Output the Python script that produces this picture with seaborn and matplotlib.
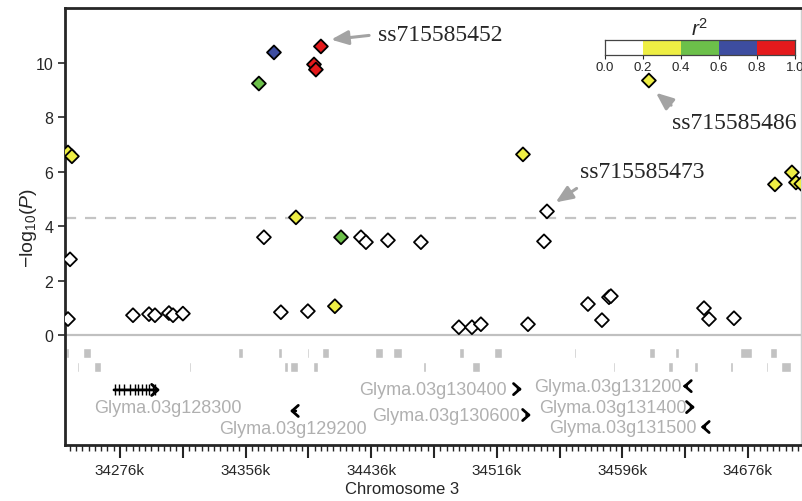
import matplotlib
matplotlib.use("Agg")
import matplotlib.pyplot as plt
import seaborn as sns
import numpy as np
import pandas as pd

# SNP positions (kb on chromosome 3), -log10(P) and LD r^2 with the lead SNP
snp_pos = [34242.9, 34244.2, 34242.9, 34245.4, 34284.3, 34294.5, 34298.3, 34307.2,
           34309.8, 34316.1, 34364.5, 34374.1, 34404.0, 34399.6, 34400.8, 34388.1,
           34367.7, 34416.8, 34429.5, 34432.7, 34446.7, 34467.7, 34378.5, 34395.7,
           34412.9, 34491.9, 34500.2, 34505.9, 34535.9, 34532.7, 34548.0, 34546.1,
           34574.1, 34583.0, 34587.5, 34588.7, 34648.0, 34651.2, 34667.1, 34612.9,
           34693.2, 34704.0, 34706.6, 34710.0]
snp_logp = [0.59, 2.78, 6.70, 6.56, 0.73, 0.77, 0.73, 0.81,
            0.73, 0.79, 9.23, 10.37, 10.59, 9.93, 9.74, 4.32,
            3.59, 3.59, 3.59, 3.41, 3.48, 3.41, 0.84, 0.88,
            1.06, 0.29, 0.29, 0.40, 0.40, 6.63, 4.54, 3.44,
            1.14, 0.55, 1.39, 1.43, 0.99, 0.59, 0.62, 9.34,
            5.53, 5.97, 5.60, 5.55]
snp_r2 = [0.1, 0.1, 0.3, 0.3, 0.1, 0.1, 0.1, 0.1,
          0.1, 0.1, 0.5, 0.7, 0.9, 0.9, 0.9, 0.3,
          0.1, 0.5, 0.1, 0.1, 0.1, 0.1, 0.1, 0.1,
          0.3, 0.1, 0.1, 0.1, 0.1, 0.3, 0.1, 0.1,
          0.1, 0.1, 0.1, 0.1, 0.1, 0.1, 0.1, 0.3,
          0.3, 0.3, 0.3, 0.3]

r2_edges = [0.0, 0.2, 0.4, 0.6, 0.8, 1.0]
r2_bins = ["0.0-0.2", "0.2-0.4", "0.4-0.6", "0.6-0.8", "0.8-1.0"]
r2_colors = ["#ffffff", "#eeee44", "#6cc04a", "#3d4da0", "#e41a1c"]

threshold = 4.3

# labelled SNPs: (name, position, -log10 P)
lab_names = ["ss715585452", "ss715585486", "ss715585473"]
lab_pos = [34404.0, 34612.9, 34548.0]
lab_logp = [10.59, 9.34, 4.54]

# gray feature blocks of the annotation track (start, end in kb)
track1_start = [34241.6, 34252.4, 34303.4, 34351.2, 34376.6, 34383.0, 34395.1, 34404.7,
                34438.4, 34449.9, 34491.9, 34514.2, 34565.2, 34612.9, 34629.5, 34658.8,
                34670.9, 34690.0]
track1_end = [34243.5, 34257.5, 34304.0, 34354.3, 34379.2, 34383.6, 34396.4, 34409.1,
              34443.5, 34455.6, 34495.1, 34519.3, 34566.4, 34616.8, 34632.0, 34659.4,
              34678.5, 34694.5]
track2_start = [34248.6, 34259.4, 34320.0, 34369.0, 34380.5, 34384.3, 34398.9, 34420.6,
                34446.7, 34469.0, 34500.2, 34532.1, 34590.0, 34625.0, 34641.6, 34664.5,
                34687.5, 34697.0]
track2_end = [34249.9, 34263.9, 34321.2, 34369.6, 34383.0, 34389.4, 34402.1, 34421.2,
              34447.3, 34470.9, 34505.3, 34532.7, 34591.3, 34628.2, 34644.2, 34666.5,
              34688.7, 34703.4]

# genes
gene_names = ["Glyma.03g128300", "Glyma.03g129200", "Glyma.03g130400", "Glyma.03g130600",
              "Glyma.03g131200", "Glyma.03g131400", "Glyma.03g131500"]
gene_start = [34272.2, 34384.3, 34529.5, 34535.0, 34634.6, 34639.7, 34646.0]
gene_end = [34301.5, 34388.0, 34532.0, 34537.8, 34637.0, 34642.2, 34648.6]
gene_strand = ["+", "-", "+", "+", "-", "+", "-"]
exons_128300 = [34272.8, 34275.4, 34278.5, 34282.4, 34285.6, 34287.5, 34290.0,
                34292.6, 34294.5, 34297.0, 34298.3]

x_major = [34276, 34316, 34356, 34396, 34436, 34476, 34516, 34556, 34596, 34636, 34676]
x_labels = ["34276k", "", "34356k", "", "34436k", "", "34516k", "", "34596k", "", "34676k"]

df = pd.DataFrame({"pos": snp_pos, "logp": snp_logp, "r2": snp_r2})
df["bin"] = pd.cut(df["r2"], bins=r2_edges, labels=r2_bins, include_lowest=True)

sns.set_style("ticks")
plt.rcParams["font.family"] = ["Liberation Sans", "DejaVu Sans"]
plt.rcParams["mathtext.fontset"] = "custom"
plt.rcParams["mathtext.rm"] = "Liberation Sans"
plt.rcParams["mathtext.it"] = "Liberation Sans:italic"

fig = plt.figure(figsize=(8.03, 5.02), dpi=100)
ax = fig.add_axes([65 / 803, 1 - 446 / 502, 736 / 803, 437 / 502])

# reference lines
ax.axhline(0, color="#c0c0c0", lw=1.6, zorder=1)
ax.axhline(threshold, color="#c4c4c4", lw=1.6, ls=(0, (5, 4)), zorder=1)

# LD-coloured SNPs
sns.scatterplot(data=df, x="pos", y="logp", hue="bin", hue_order=r2_bins,
                palette=dict(zip(r2_bins, r2_colors)), marker="D", s=50,
                edgecolor="black", linewidth=1.3, legend=False, ax=ax, zorder=3)

# annotation arrows for labelled SNPs
arrow_kw = dict(arrowstyle="-|>,head_length=0.6,head_width=0.25", color="#a3a3a3",
                lw=2.2, shrinkA=4, shrinkB=0)
serif = ["Liberation Serif", "DejaVu Serif"]
ax.annotate(lab_names[0], xy=(lab_pos[0] + 6.5, lab_logp[0] + 0.25),
            xytext=(34440.3, 11.03), ha="left", va="center", fontsize=17,
            family=serif, arrowprops=dict(arrow_kw, relpos=(0, 0.5)))
ax.annotate(lab_names[1], xy=(lab_pos[1] + 4.5, lab_logp[1] - 0.45),
            xytext=(34627.6, 7.80), ha="left", va="center", fontsize=17,
            family=serif, arrowprops=dict(arrow_kw, relpos=(0.06, 1.0)))
ax.annotate(lab_names[2], xy=(lab_pos[2] + 5.5, lab_logp[2] + 0.33),
            xytext=(34569.0, 6.0), ha="left", va="center", fontsize=17,
            family=serif, arrowprops=dict(arrow_kw, relpos=(0.05, 0.0)))

# annotation track blocks
ax.broken_barh(list(zip(track1_start, np.maximum(np.subtract(track1_end, track1_start), 0.7))),
               (-0.84, 0.35), facecolors="#c2c2c2", zorder=2)
ax.broken_barh(list(zip(track2_start, np.maximum(np.subtract(track2_end, track2_start), 0.7))),
               (-1.36, 0.38), facecolors="#c2c2c2", zorder=2)

# genes
gene_y = [-2.01, -2.78, -1.98, -2.93, -1.87, -2.64, -3.37]
label_xy = [(34306.6, -2.67, "center"), (34386.2, -3.41, "center"),
            (34522.5, -1.98, "right"), (34530.8, -2.93, "right"),
            (34633.9, -1.87, "right"), (34637.1, -2.64, "right"),
            (34643.5, -3.37, "right")]
for name, gs, ge, st, gy, (lx, ly, lha) in zip(gene_names, gene_start, gene_end,
                                               gene_strand, gene_y, label_xy):
    tail, head = (gs, ge) if st == "+" else (ge, gs)
    ax.annotate("", xy=(head, gy), xytext=(tail, gy),
                arrowprops=dict(arrowstyle="->,head_length=0.45,head_width=0.4",
                                color="black", lw=2.0, shrinkA=0, shrinkB=0))
    ax.text(lx, ly, name, ha=lha, va="center", fontsize=13, color="#b0b0b0")
ax.vlines(exons_128300, gene_y[0] - 0.2, gene_y[0] + 0.2, color="black", lw=1)

# r^2 legend bar
lax = fig.add_axes([605 / 803, 1 - 56 / 502, 190 / 803, 15 / 502])
lax.bar(r2_edges[:-1], 1, width=0.2, align="edge", color=r2_colors,
        edgecolor="none")
lax.set_xlim(0, 1)
lax.set_ylim(0, 1)
lax.set_yticks([])
lax.set_xticks(r2_edges)
lax.set_xticklabels([f"{v:.1f}" for v in r2_edges], fontsize=9.5)
lax.tick_params(axis="x", length=3, width=0.8, pad=1)
for sp in lax.spines.values():
    sp.set_linewidth(0.9)
    sp.set_color("#444444")
lax.set_title(r"$r^2$", fontsize=15, pad=4)

# axes styling
ax.set_xlim(34241, 34709.8)
ax.set_ylim(-4.03, 12)
ax.set_yticks([0, 2, 4, 6, 8, 10])
ax.set_xticks(x_major)
ax.set_xticklabels(x_labels)
ax.set_xticks(np.arange(34244, 34710, 4), minor=True)
ax.tick_params(axis="x", which="major", length=9, width=1.5, labelsize=11, pad=4)
ax.tick_params(axis="x", which="minor", length=4, width=1)
ax.tick_params(axis="y", length=5, width=1.2, labelsize=11.5)
ax.spines["top"].set_linewidth(2)
ax.spines["left"].set_linewidth(2)
ax.spines["bottom"].set_linewidth(2)
ax.spines["right"].set_linewidth(1)
ax.spines["right"].set_color("#cfcfcf")
ax.set_xlabel("Chromosome 3", fontsize=12)
ax.xaxis.set_label_coords(0.458, -0.082)
ax.set_ylabel(r"$-\mathrm{log}_{10}(\mathit{P})$", fontsize=14)
ax.yaxis.set_label_coords(-0.036, 0.5)

fig.savefig("out.png", dpi=100)
